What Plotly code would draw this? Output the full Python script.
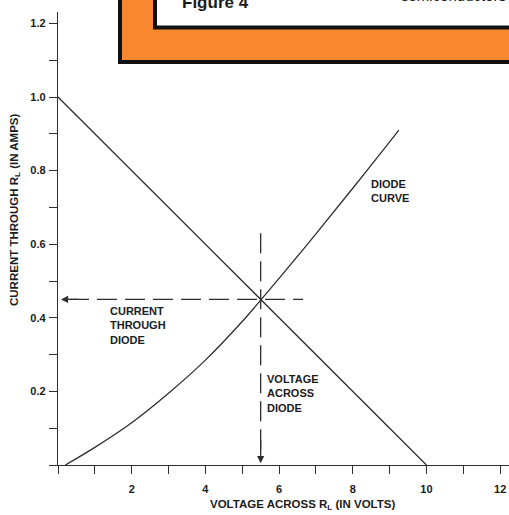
import plotly.graph_objects as go

# ---- data -------------------------------------------------------------
# load line of R_L: current falls linearly from 1.0 A at 0 V to 0 A at 10 V
load_v = [0, 10]
load_i = [1.0, 0.0]

# diode forward curve
diode_v = [0.2, 1, 2, 3, 4, 5, 5.5, 6, 7, 8, 9, 9.25]
diode_i = [0.0, 0.048, 0.115, 0.195, 0.285, 0.39, 0.448, 0.507, 0.628, 0.752, 0.878, 0.91]

# operating point (where the two lines cross)
op_v = 5.5
op_i = 0.45

x_ticks = list(range(0, 13))
x_ticktext = ["" if (v == 0 or v % 2) else str(v) for v in x_ticks]
y_ticks = [round(0.1 * k, 1) for k in range(0, 13)]
y_ticktext = ["" if (k == 0 or k % 2) else f"{0.1 * k:.1f}" for k in range(0, 13)]

# ---- geometry --------------------------------------------------------
W, H = 509, 515
ML, MR, MT, MB = 58, 0, 12, 50
PW, PH = W - ML - MR, H - MT - MB
X_MAX = 12.24
Y_MAX = 1.231

INK = "#2e2e2e"
TXT = "#1c1c1c"
ORANGE = "#f7882f"
FONT = "Liberation Sans, Arial, Helvetica, sans-serif"


def px(x):
    """page pixel column -> paper x"""
    return (x - ML) / PW


def py(y):
    """page pixel row -> paper y"""
    return (H - MB - y) / PH


fig = go.Figure()

fig.add_trace(go.Scatter(x=load_v, y=load_i, mode="lines",
                         line=dict(color=INK, width=1.3), hoverinfo="skip"))
fig.add_trace(go.Scatter(x=diode_v, y=diode_i, mode="lines", line_shape="spline",
                         line=dict(color=INK, width=1.3), hoverinfo="skip"))

# dashed guides from the operating point to each axis
fig.add_trace(go.Scatter(x=[0.3, op_v + 1.15], y=[op_i, op_i], mode="lines",
                         line=dict(color=INK, width=1.3, dash="20px,8px"),
                         hoverinfo="skip"))
fig.add_trace(go.Scatter(x=[op_v, op_v], y=[op_i + 0.18, 0.03], mode="lines",
                         line=dict(color=INK, width=1.3, dash="20px,8px"),
                         hoverinfo="skip"))

annotations = [
    # arrowheads on the guides
    dict(x=0.08, y=op_i, ax=0.6, ay=op_i, xref="x", yref="y", axref="x", ayref="y",
         showarrow=True, arrowhead=2, arrowsize=1.1, arrowwidth=1.3, arrowcolor=INK, text=""),
    dict(x=op_v, y=0.005, ax=op_v, ay=0.07, xref="x", yref="y", axref="x", ayref="y",
         showarrow=True, arrowhead=2, arrowsize=1.1, arrowwidth=1.3, arrowcolor=INK, text=""),
    # callouts
    dict(x=1.35, y=0.44, xref="x", yref="y", xanchor="left", yanchor="top", align="left",
         showarrow=False, text="CURRENT<br>THROUGH<br>DIODE",
         font=dict(family=FONT, size=11, color=TXT, weight="bold")),
    dict(x=5.62, y=0.255, xref="x", yref="y", xanchor="left", yanchor="top", align="left",
         showarrow=False, text="VOLTAGE<br>ACROSS<br>DIODE",
         font=dict(family=FONT, size=11, color=TXT, weight="bold")),
    dict(x=8.45, y=0.785, xref="x", yref="y", xanchor="left", yanchor="top", align="left",
         showarrow=False, text="DIODE<br>CURVE",
         font=dict(family=FONT, size=11, color=TXT, weight="bold")),
    # axis titles
    dict(x=px(302), y=py(505), xref="paper", yref="paper", xanchor="center", yanchor="middle",
         showarrow=False, text="VOLTAGE ACROSS R<sub>L</sub> (IN VOLTS)",
         font=dict(family=FONT, size=11.5, color=TXT, weight="bold")),
    dict(x=px(15), y=py(210), xref="paper", yref="paper", xanchor="center", yanchor="middle",
         showarrow=False, textangle=-90, text="CURRENT THROUGH R<sub>L</sub> (IN AMPS)",
         font=dict(family=FONT, size=11.5, color=TXT, weight="bold")),
    # caption box lettering (runs off the top edge)
    dict(x=px(180), y=py(14), xref="paper", yref="paper", xanchor="left", yanchor="bottom",
         showarrow=False, text="Figure 4",
         font=dict(family=FONT, size=17, color=TXT, weight="bold")),
    dict(x=px(399), y=py(6), xref="paper", yref="paper", xanchor="left", yanchor="bottom",
         showarrow=False, text="semiconductors",
         font=dict(family=FONT, size=15, color=TXT)),
]

# orange caption frame in the upper right
shapes = [
    dict(type="rect", xref="paper", yref="paper", x0=px(118), x1=px(520), y0=py(64), y1=py(-10),
         fillcolor="#111111", line_width=0, layer="below"),
    dict(type="rect", xref="paper", yref="paper", x0=px(122), x1=px(520), y0=py(60), y1=py(-10),
         fillcolor=ORANGE, line_width=0, layer="below"),
    dict(type="rect", xref="paper", yref="paper", x0=px(153), x1=px(520), y0=py(29.5), y1=py(-10),
         fillcolor="#111111", line_width=0, layer="below"),
    dict(type="rect", xref="paper", yref="paper", x0=px(157), x1=px(520), y0=py(25.5), y1=py(-10),
         fillcolor="white", line_width=0, layer="below"),
]

axis_common = dict(
    showgrid=False, zeroline=False, showline=True, linecolor=INK, linewidth=1.3,
    ticks="outside", ticklen=8, tickwidth=1.3, tickcolor=INK, tickmode="array",
    tickfont=dict(family=FONT, size=11, color=TXT, weight="bold"),
    ticklabeloverflow="allow", fixedrange=True,
)

fig.update_layout(
    width=W, height=H,
    margin=dict(l=ML, r=MR, t=MT, b=MB),
    paper_bgcolor="white", plot_bgcolor="white",
    showlegend=False,
    xaxis=dict(range=[0, X_MAX], tickvals=x_ticks, ticktext=x_ticktext,
               ticklabelstandoff=6, **axis_common),
    yaxis=dict(range=[0, Y_MAX], tickvals=y_ticks, ticktext=y_ticktext,
               ticklabelstandoff=1, **axis_common),
    annotations=annotations,
    shapes=shapes,
)

fig.write_html("out.html", config={"displayModeBar": False})
